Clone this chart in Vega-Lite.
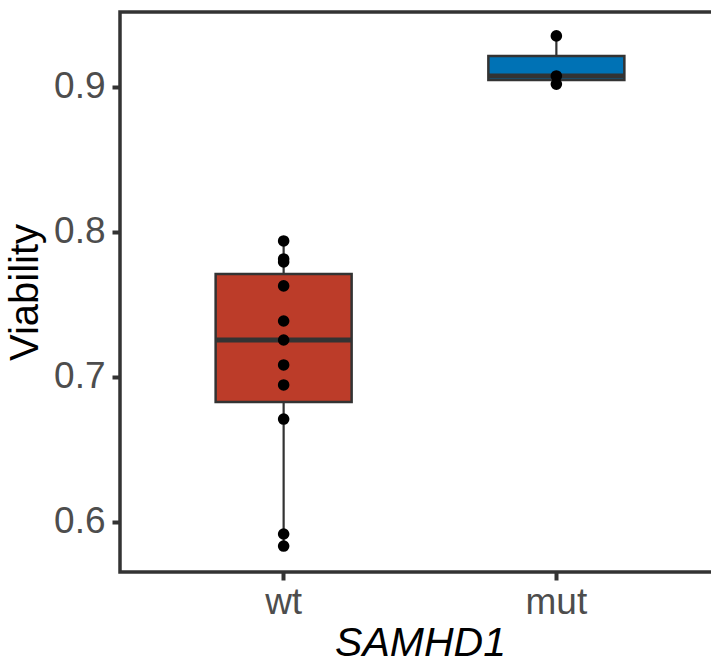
{
  "$schema": "https://vega.github.io/schema/vega-lite/v6.json",
  "autosize": {"type": "none"},
  "padding": {"left": 120, "top": 12, "right": 0, "bottom": 94},
  "width": 600,
  "height": 560,
  "background": "white",
  "config": {
    "view": {"stroke": "#333333", "strokeWidth": 3.5},
    "axis": {"grid": false, "domain": false, "tickColor": "#333333", "tickWidth": 4, "tickSize": 8, "labelColor": "#4D4D4D", "labelFont": "Liberation Sans", "titleFont": "Liberation Sans", "labelFontSize": 37, "titleFontSize": 40, "titleFontWeight": "normal", "titleColor": "black"}
  },
  "data": {"values": [
    {"SAMHD1": "wt", "Viability": 0.7938},
    {"SAMHD1": "wt", "Viability": 0.7814},
    {"SAMHD1": "wt", "Viability": 0.7793},
    {"SAMHD1": "wt", "Viability": 0.7628},
    {"SAMHD1": "wt", "Viability": 0.7386},
    {"SAMHD1": "wt", "Viability": 0.7255},
    {"SAMHD1": "wt", "Viability": 0.7083},
    {"SAMHD1": "wt", "Viability": 0.6945},
    {"SAMHD1": "wt", "Viability": 0.6710},
    {"SAMHD1": "wt", "Viability": 0.5917},
    {"SAMHD1": "wt", "Viability": 0.5834},
    {"SAMHD1": "mut", "Viability": 0.9352},
    {"SAMHD1": "mut", "Viability": 0.9076},
    {"SAMHD1": "mut", "Viability": 0.9020}
  ]},
  "encoding": {
    "x": {"field": "SAMHD1", "type": "nominal", "sort": ["wt", "mut"],
      "scale": {"paddingInner": 0, "paddingOuter": 0.1},
      "axis": {"labelAngle": 0, "title": "SAMHD1", "titleFontStyle": "italic", "titleFontSize": 41, "labelPadding": 4, "titlePadding": 3}}
  },
  "layer": [
    {
      "mark": {"type": "rule", "color": "#333333", "strokeWidth": 2.2},
      "encoding": {
        "y": {"aggregate": "min", "field": "Viability", "type": "quantitative",
          "scale": {"domain": [0.5655, 0.9517], "nice": false, "zero": false},
          "axis": {"values": [0.6, 0.7, 0.8, 0.9], "format": ".1f", "title": "Viability", "labelPadding": 7, "titlePadding": 8}},
        "y2": {"aggregate": "max", "field": "Viability"}
      }
    },
    {
      "mark": {"type": "bar", "size": 136, "stroke": "#333333", "strokeWidth": 2.5},
      "encoding": {
        "y": {"aggregate": "q1", "field": "Viability", "type": "quantitative"},
        "y2": {"aggregate": "q3", "field": "Viability"},
        "fill": {"field": "SAMHD1", "type": "nominal", "scale": {"domain": ["wt", "mut"], "range": ["#BC3C29", "#0072B5"]}, "legend": null}
      }
    },
    {
      "mark": {"type": "tick", "size": 136, "thickness": 5, "color": "#333333", "orient": "horizontal"},
      "encoding": {
        "y": {"aggregate": "median", "field": "Viability", "type": "quantitative"}
      }
    },
    {
      "mark": {"type": "point", "filled": true, "color": "black", "opacity": 1, "size": 135},
      "encoding": {
        "y": {"field": "Viability", "type": "quantitative"}
      }
    }
  ]
}
